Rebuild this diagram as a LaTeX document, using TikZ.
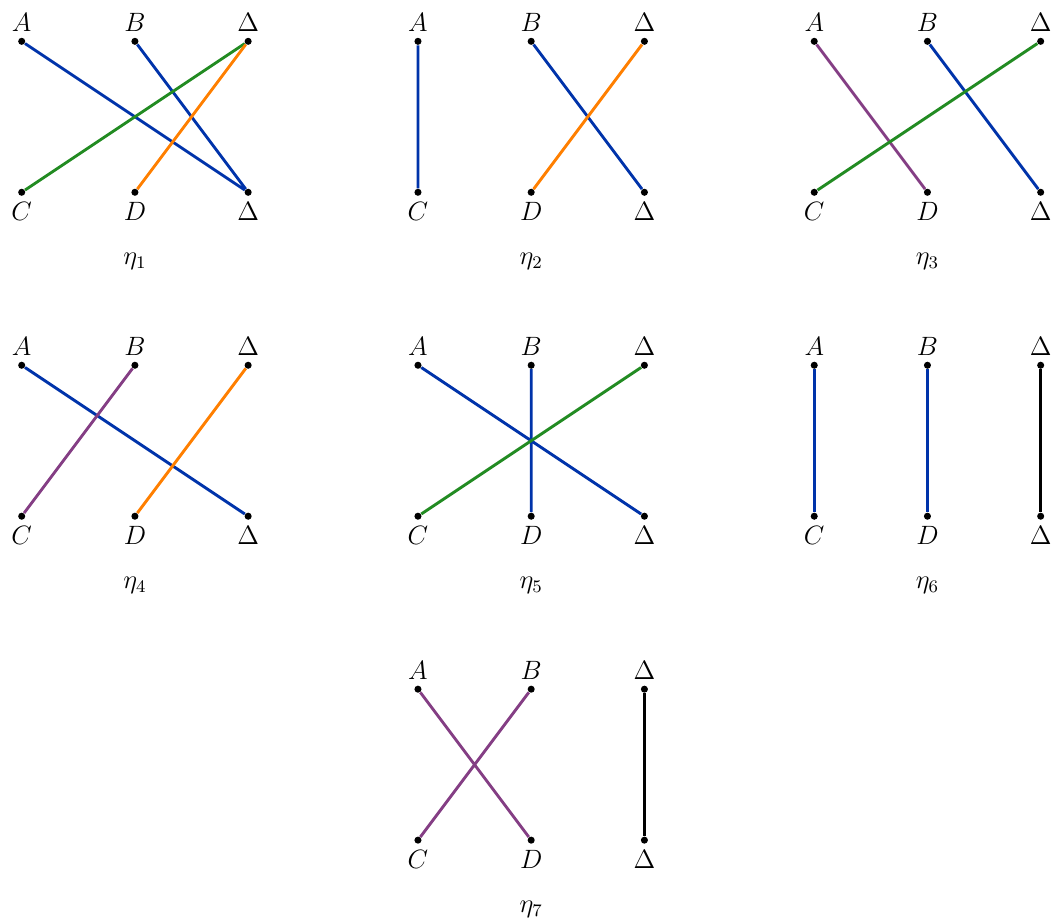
\documentclass[tikz,border=0pt]{standalone}
\usepackage{amsmath}
\usepackage{amssymb}
\usetikzlibrary{positioning,calc}

\definecolor{edgeblue}{RGB}{0,51,170}
\definecolor{edgegreen}{RGB}{34,139,34}
\definecolor{edgeorange}{RGB}{255,127,0}
\definecolor{edgepurple}{RGB}{132,62,132}

\begin{document}
\begin{tikzpicture}[
    pt/.style={circle,fill=black,inner sep=0pt,minimum size=3.2pt},
    edge/.style={line width=1.3pt},
    eblue/.style={edge,edgeblue},
    egreen/.style={edge,edgegreen},
    eorange/.style={edge,edgeorange},
    epurple/.style={edge,edgepurple},
    eblack/.style={edge,black},
    every label/.style={font=\large,inner sep=3pt},
    label distance=-0.5pt,
    etaname/.style={font=\large}
  ]
    \useasboundingbox (0,0) rectangle (16.757,-14.658);

    % the seven panels: top row A, B, Delta and bottom row C, D, Delta
    \foreach \n/\x/\y in {1/0/0, 2/6.3/0, 3/12.6/0, 4/0/-5.15, 5/6.3/-5.15, 6/12.6/-5.15, 7/6.3/-10.3} {
      \begin{scope}[shift={(\x,\y)}]
        \node[pt,label=above:$A$]      (A\n) at (0.345,-0.657) {};
        \node[pt,label=above:$B$]      (B\n) at (2.145,-0.657) {};
        \node[pt,label=above:$\Delta$] (T\n) at (3.945,-0.657) {};
        \node[pt,label=below:$C$]      (C\n) at (0.345,-3.057) {};
        \node[pt,label=below:$D$]      (D\n) at (2.145,-3.057) {};
        \node[pt,label=below:$\Delta$] (U\n) at (3.945,-3.057) {};
        \node[etaname] (eta\n) at (2.145,-4.157) {$\eta_\n$};
      \end{scope}
    }

    % eta_1
    \draw[eblue]   (A1) -- (U1) (B1) -- (U1);
    \draw[egreen]  (T1) -- (C1);
    \draw[eorange] (T1) -- (D1);
    % eta_2
    \draw[eblue]   (A2) -- (C2) (B2) -- (U2);
    \draw[eorange] (T2) -- (D2);
    % eta_3
    \draw[epurple] (A3) -- (D3);
    \draw[eblue]   (B3) -- (U3);
    \draw[egreen]  (T3) -- (C3);
    % eta_4
    \draw[eblue]   (A4) -- (U4);
    \draw[epurple] (B4) -- (C4);
    \draw[eorange] (T4) -- (D4);
    % eta_5
    \draw[eblue]   (A5) -- (U5) (B5) -- (D5);
    \draw[egreen]  (T5) -- (C5);
    % eta_6
    \draw[eblue]   (A6) -- (C6) (B6) -- (D6);
    \draw[eblack]  (T6) -- (U6);
    % eta_7
    \draw[epurple] (A7) -- (D7) (B7) -- (C7);
    \draw[eblack]  (T7) -- (U7);
\end{tikzpicture}
\end{document}
